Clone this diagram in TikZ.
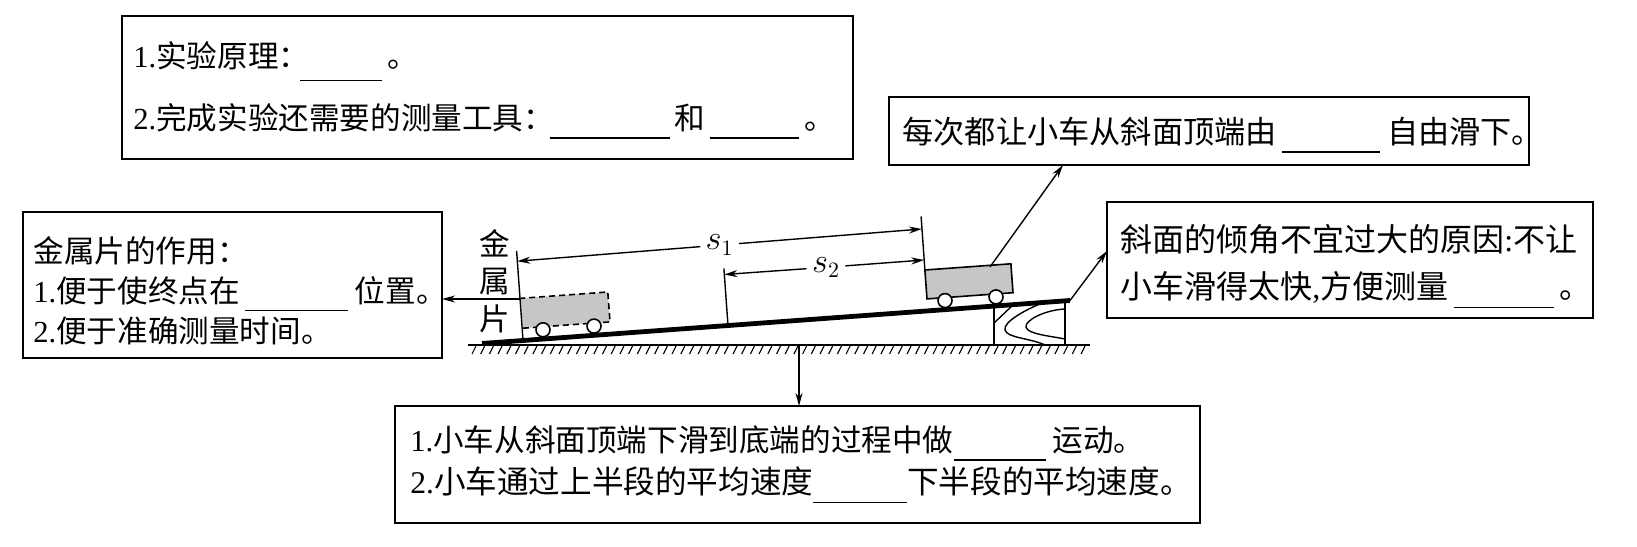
\documentclass[tikz,border=0pt]{standalone}
\usepackage{fontspec}
\setmainfont{Liberation Serif}
\newfontfamily\cjk{Noto Sans CJK SC}
\usetikzlibrary{arrows.meta,fit,calc}
\newcommand{\blank}[2][-0.3em]{\rule[#1]{#2}{0.7pt}}
\begin{document}
\begin{tikzpicture}[x=0.5pt,y=-0.5pt,
  box/.style={draw,line width=1pt,inner sep=0pt,outer sep=0pt},
  txt/.style={anchor=base west,inner sep=0pt,font=\fontsize{15.3}{18}\selectfont\cjk},
  bigtxt/.style={txt,font=\fontsize{16}{18}\selectfont\cjk},
  arr/.style={-{Stealth[length=6.5pt,width=3.5pt]},line width=0.7pt},
  thinl/.style={line width=0.7pt},
  cartbody/.style={fill=gray!45,line width=0.8pt},
  wheel/.style={draw,fill=white,line width=0.8pt,circle,minimum size=7pt,inner sep=0pt}]
\path[use as bounding box,fill=white] (0,0) rectangle (1637,546);

% boxes
\node[box,fit={(122,16) (853,159)}] (b1) {};
\node[box,fit={(889,97) (1529,165)}] (b2) {};
\node[box,fit={(23,212) (442,358)}] (lb) {};
\node[box,fit={(1107,202) (1593,318)}] (rb) {};
\node[box,fit={(395,406) (1200,523)}] (bb) {};

% texts
\node[txt] (t11) at (133,67.5) {{\rmfamily 1.}实验原理：\hspace{-0.3em}\blank[-0.45em]{41pt}\,。};
\node[txt] (t12) at (133,129.5) {{\rmfamily 2.}完成实验还需要的测量工具：\hspace{-0.15em}\blank{60pt}\,和\,\blank{44.5pt}\,。};
\node[txt,font=\fontsize{15.6}{18}\selectfont\cjk] (t2) at (902,143.5) {每次都让小车从斜面顶端由\,\blank{49pt}\ 自由滑下。};
\node[txt] (l1) at (33,262) {金属片的作用：};
\node[txt] (l2) at (33,302) {{\rmfamily 1.}便于使终点在\,\blank{51.5pt}\ 位置。};
\node[txt] (l3) at (33,342) {{\rmfamily 2.}便于准确测量时间。};
\node[bigtxt] (r1) at (1120,251.5) {斜面的倾角不宜过大的原因{\rmfamily :}不让};
\node[bigtxt] (r2) at (1120,298.5) {小车滑得太快{\rmfamily ,}方便测量\,\blank{50pt}\,。};
\node[txt] (m1) at (410,451.5) {{\rmfamily 1.}小车从斜面顶端下滑到底端的过程中做\blank{46pt}\ 运动。};
\node[txt,font=\fontsize{15.8}{18}\selectfont\cjk] (m2) at (410,493.5) {{\rmfamily 2.}小车通过上半段的平均速度\blank{47pt}下半段的平均速度。};

% ground
\draw[thinl] (468,345) -- (1090,345);
\foreach \x in {476,484.7,...,1088} \draw[line width=0.55pt] (\x,346) -- (\x-4,354);

% wood block
\draw[thinl] (994,306) -- (994,345);
\draw[thinl] (1065,301) -- (1065,345);
\draw[thinl] (994,323) -- (1013,305);
\draw[thinl] (1042,303) .. controls (1025,310) and (1003,322) .. (1005,330) .. controls (1007,338) and (1030,338) .. (1045,345);
\draw[thinl] (1065,309) .. controls (1045,310) and (1025,320) .. (1026,327) .. controls (1027,334) and (1050,336) .. (1065,339);

% incline
\draw[line width=2.4pt] (482,343.5) -- (1070,300.5);

% lower cart (dashed)
\draw[cartbody,dashed,dash pattern=on 3pt off 2pt] (523,328.2) -- (610,321.9) -- (607.8,292) -- (520.8,298.3);
\node[wheel] (w1) at (543,329.8) {};
\node[wheel] (w2) at (594,326.1) {};

% upper cart
\draw[cartbody] (927,298.9) -- (1013,292.7) -- (1010.9,263.8) -- (924.9,270) -- cycle;
\node[wheel] (w3) at (945,300.6) {};
\node[wheel] (w4) at (996,296.9) {};

% metal plate
\coordinate (pB) at (523,340);
\coordinate (pT) at (516.6,251);
\draw[thinl] (pB) -- (pT);
\node[txt,anchor=center,align=center,font=\fontsize{15.3}{18.75}\selectfont\cjk] (plab) at (495,281) {金\\属\\片};

% ticks
\draw[thinl] (924.9,270) -- (921.1,216.5);
\draw[thinl] (728,325.4) -- (723.9,268.5);

% s1, s2
\coordinate (s1L) at (517.3,261.2);
\coordinate (s1R) at (921.9,229);
\node[inner sep=2.5pt,font=\fontsize{16}{17}\selectfont] (s1) at (719.6,245.1) {$s_1$};
\draw[arr] (s1) -- (s1L);
\draw[arr] (s1) -- (s1R);
\coordinate (s2L) at (724.3,274.5);
\coordinate (s2R) at (924.2,260);
\node[inner sep=2.5pt,font=\fontsize{16}{17}\selectfont] (s2) at (826,267.3) {$s_2$};
\draw[arr] (s2) -- (s2L);
\draw[arr] (s2) -- (s2R);

% connectors
\coordinate (pM) at (520,299);
\draw[arr] (pM) -- (pM -| lb.east);
\coordinate (cU) at (990,267);
\coordinate (b2t) at (1063,165);
\draw[arr] (cU) -- (b2t);
\coordinate (iT) at (1070,300.5);
\coordinate (rbt) at (1107,251);
\draw[arr] (iT) -- (rbt);
\coordinate (gd) at (799,345);
\draw[arr] (gd) -- (gd |- bb.north);
\end{tikzpicture}
\end{document}
